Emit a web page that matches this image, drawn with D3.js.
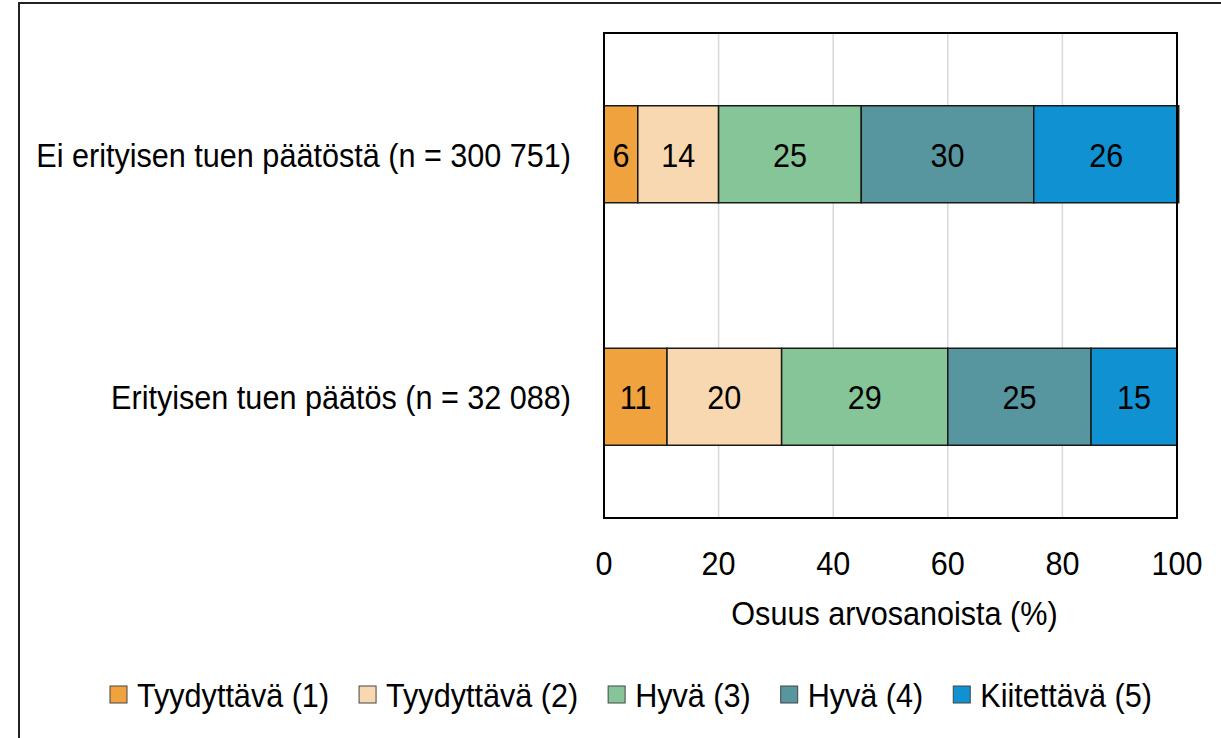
<!DOCTYPE html>
<html>
<head>
<meta charset="utf-8">
<script src="https://cdn.jsdelivr.net/npm/d3@7"></script>
<style>
  body { margin: 0; background: #fff; }
  svg { display: block; font-family: "Liberation Sans", Arial, sans-serif; }
</style>
</head>
<body>
<div id="chart"></div>
<script>
// Data
const groups = ["Ei erityisen tuen päätöstä (n = 300 751)", "Erityisen tuen päätös (n = 32 088)"];
const grades = ["Tyydyttävä (1)", "Tyydyttävä (2)", "Hyvä (3)", "Hyvä (4)", "Kiitettävä (5)"];
const shares = [
    [5.9, 14.1, 24.9, 30.1, 25.3],
    [11.0, 20.0, 29.0, 25.0, 15.0]
];
const shareLabels = [
    [6, 14, 25, 30, 26],
    [11, 20, 29, 25, 15]
];
const xTicks = [0, 20, 40, 60, 80, 100];
const colors = ["#EFA23E", "#F8D8B1", "#86C598", "#57969E", "#1091D2"];

const width = 1221, height = 738;
const plot = { left: 604, right: 1177, top: 33, bottom: 518 };
const fontSize = "34px";
const squeeze = 0.9;  // text in the original is a bit narrower than Liberation Sans

const svg = d3.select("#chart").append("svg")
    .attr("width", width)
    .attr("height", height);

// helper: text placed at (x, y) squeezed horizontally around its anchor
function label(parent, x, y, str, anchor) {
    return parent.append("text")
        .attr("transform", `translate(${x},${y}) scale(${squeeze},1)`)
        .attr("dy", "0.36em")
        .attr("text-anchor", anchor)
        .style("font-size", fontSize)
        .attr("fill", "#000")
        .text(str);
}

// outer frame
svg.append("rect")
    .attr("x", 19).attr("y", 3)
    .attr("width", width + 10).attr("height", height + 10)
    .attr("fill", "none")
    .attr("stroke", "#222")
    .attr("stroke-width", 2);

const x = d3.scaleLinear().domain([0, 100]).range([plot.left, plot.right]);
const y = d3.scaleBand().domain(groups).range([plot.top, plot.bottom])
    .paddingInner(0.6).paddingOuter(0.3);

// gridlines
svg.append("g")
    .selectAll("line")
    .data(xTicks.slice(1, -1))
    .join("line")
    .attr("x1", d => x(d)).attr("x2", d => x(d))
    .attr("y1", plot.top).attr("y2", plot.bottom)
    .attr("stroke", "#d9d9d9")
    .attr("stroke-width", 1.5);

// stacked bars
const rows = groups.map((g, i) => {
    let acc = 0;
    return shares[i].map((v, j) => {
        const seg = { group: g, x0: acc, x1: acc + v, grade: j, label: shareLabels[i][j] };
        acc += v;
        return seg;
    });
}).flat();

const barG = svg.append("g");
barG.selectAll("rect")
    .data(rows)
    .join("rect")
    .attr("x", d => x(d.x0))
    .attr("y", d => y(d.group))
    .attr("width", d => x(d.x1) - x(d.x0))
    .attr("height", y.bandwidth())
    .attr("fill", d => colors[d.grade])
    .attr("stroke", "#1a1a1a")
    .attr("stroke-width", 1.5);

rows.forEach(d => {
    label(barG, (x(d.x0) + x(d.x1)) / 2, y(d.group) + y.bandwidth() / 2, d.label, "middle");
});

// plot border
svg.append("rect")
    .attr("x", plot.left).attr("y", plot.top)
    .attr("width", plot.right - plot.left)
    .attr("height", plot.bottom - plot.top)
    .attr("fill", "none")
    .attr("stroke", "#000")
    .attr("stroke-width", 2);

// category labels
const catG = svg.append("g");
groups.forEach(g => label(catG, 571, y(g) + y.bandwidth() / 2, g, "end"));

// x axis tick labels and title
const axG = svg.append("g");
xTicks.forEach(t => label(axG, x(t), 563, t, "middle"));
label(axG, (plot.left + plot.right) / 2 + 4, 613, "Osuus arvosanoista (%)", "middle");

// legend
const legend = svg.append("g");
let lx = 110;
grades.forEach((g, i) => {
    legend.append("rect")
        .attr("x", lx).attr("y", 686)
        .attr("width", 17).attr("height", 17)
        .attr("fill", colors[i])
        .attr("stroke", "#444")
        .attr("stroke-width", 1);
    const t = label(legend, lx + 27, 695, g, "start");
    lx += 27 + t.node().getComputedTextLength() * squeeze + 30;
});
</script>
</body>
</html>
